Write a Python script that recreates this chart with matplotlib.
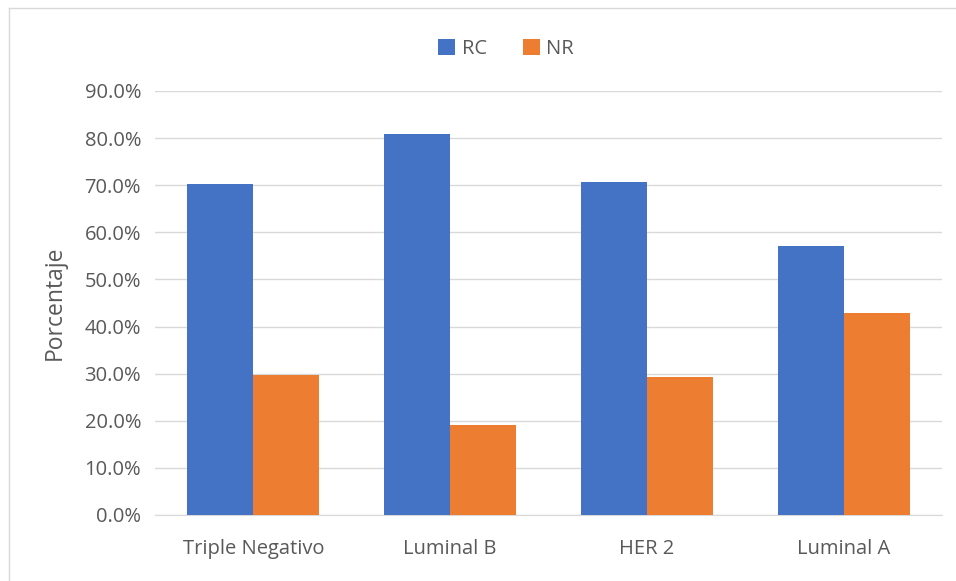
import matplotlib
matplotlib.use("Agg")
import matplotlib.pyplot as plt
import numpy as np
from matplotlib.lines import Line2D

categories = ["Triple Negativo", "Luminal B", "HER 2", "Luminal A"]
rc = [70.3, 80.9, 70.7, 57.1]
nr = [29.7, 19.1, 29.3, 42.9]
yticks = [0, 10, 20, 30, 40, 50, 60, 70, 80, 90]

plt.rcParams['font.family'] = ['Open Sans', 'DejaVu Sans']

W, H = 956, 581
fig = plt.figure(figsize=(W/100, H/100), dpi=100)
ax = fig.add_axes([155/W, 1-515/H, (942-155)/W, (515-91)/H])

x = np.arange(len(categories))
w = 0.335
ax.bar(x - w/2, rc, w, color="#4472C4", label="RC", zorder=3)
ax.bar(x + w/2, nr, w, color="#ED7D31", label="NR", zorder=3)

ax.set_xlim(-0.5, len(categories)-0.5)
ax.set_ylim(0, 90)
ax.set_yticks(yticks)
ax.set_yticklabels([f"{v:.1f}%" for v in yticks], color="#595959", fontsize=14.5)
ax.set_xticks(x)
ax.set_xticklabels(categories, color="#595959", fontsize=14.5)
ax.tick_params(axis='x', length=0, pad=17)
ax.tick_params(axis='y', length=0, pad=10)
ax.grid(axis='y', color="#d9d9d9", linewidth=1, zorder=0)
for s in ["top", "right", "left"]:
    ax.spines[s].set_visible(False)
ax.spines["bottom"].set_color("#d9d9d9")
ax.set_ylabel("Porcentaje", color="#595959", fontsize=16.5, labelpad=13)

fig.legend(loc="center", bbox_to_anchor=(506/W, 1-49/H), ncol=2, frameon=False,
           fontsize=14.5, handlelength=0.85, handleheight=0.85, columnspacing=1.8,
           handletextpad=0.3, labelcolor="#595959")

# outer border
fig.add_artist(Line2D([9/W, 9/W], [0, 1-8/H], color="#d9d9d9", lw=1, transform=fig.transFigure))
fig.add_artist(Line2D([9/W, 1], [1-8/H, 1-8/H], color="#d9d9d9", lw=1, transform=fig.transFigure))

fig.savefig("out.png", dpi=100)
